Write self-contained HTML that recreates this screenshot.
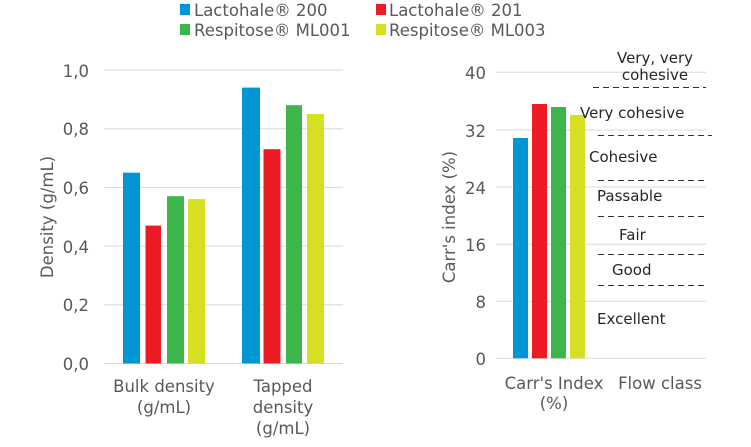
<!DOCTYPE html>
<html><head><meta charset="utf-8"><style>
body{margin:0;background:#fff}
svg text{font-family:"DejaVu Sans","Liberation Sans",sans-serif;fill:#595959;font-size:16.5px}
svg text.f{fill:#262626;font-size:15px}
</style></head><body>
<svg width="751" height="442" xmlns="http://www.w3.org/2000/svg">
<rect x="180" y="4" width="10" height="11" fill="#0096D6"/><text x="194" y="16">Lactohale® 200</text>
<rect x="376" y="4" width="10" height="11" fill="#ED1C24"/><text x="389" y="16">Lactohale® 201</text>
<rect x="180" y="24" width="10" height="11" fill="#3CB54A"/><text x="194" y="36">Respitose® ML001</text>
<rect x="376" y="24" width="10" height="11" fill="#D7DF23"/><text x="389" y="36">Respitose® ML003</text>
<g stroke="#D9D9D9" stroke-width="1">
<line x1="104" x2="343" y1="70" y2="70"/><line x1="104" x2="343" y1="128.7" y2="128.7"/>
<line x1="104" x2="343" y1="187.4" y2="187.4"/><line x1="104" x2="343" y1="246.1" y2="246.1"/>
<line x1="104" x2="343" y1="304.8" y2="304.8"/><line x1="104" x2="343" y1="363.5" y2="363.5"/>
</g>
<g text-anchor="end">
<text x="89" y="77">1,0</text><text x="89" y="135">0,8</text><text x="89" y="194">0,6</text>
<text x="89" y="253">0,4</text><text x="89" y="311">0,2</text><text x="89" y="370">0,0</text>
</g>
<rect x="123" y="172.7" width="17" height="190.8" fill="#0096D6"/>
<rect x="145.5" y="225.6" width="15.5" height="137.9" fill="#ED1C24"/>
<rect x="167" y="196.2" width="17" height="167.3" fill="#3CB54A"/>
<rect x="188" y="199.1" width="17" height="164.4" fill="#D7DF23"/>
<rect x="242" y="87.6" width="18" height="275.9" fill="#0096D6"/>
<rect x="263.5" y="149.2" width="17" height="214.3" fill="#ED1C24"/>
<rect x="286" y="105.2" width="16" height="258.3" fill="#3CB54A"/>
<rect x="307" y="114" width="17" height="249.5" fill="#D7DF23"/>
<text transform="translate(53,217) rotate(-90)" text-anchor="middle">Density (g/mL)</text>
<g text-anchor="middle">
<text x="164" y="392">Bulk density</text><text x="164" y="413">(g/mL)</text>
<text x="283" y="392">Tapped</text><text x="283" y="413">density</text><text x="283" y="434">(g/mL)</text>
</g>
<g stroke="#D9D9D9" stroke-width="1">
<line x1="496" x2="706" y1="72.3" y2="72.3"/><line x1="496" x2="706" y1="130" y2="130"/>
<line x1="496" x2="706" y1="187" y2="187"/><line x1="496" x2="706" y1="244.3" y2="244.3"/>
<line x1="496" x2="706" y1="301.3" y2="301.3"/><line x1="496" x2="706" y1="358.3" y2="358.3"/>
</g>
<g text-anchor="end">
<text x="486" y="79">40</text><text x="486" y="137">32</text><text x="486" y="194">24</text>
<text x="486" y="251">16</text><text x="486" y="308">8</text><text x="486" y="365">0</text>
</g>
<rect x="513" y="138" width="15" height="220.3" fill="#0096D6"/>
<rect x="532" y="104" width="15" height="254.3" fill="#ED1C24"/>
<rect x="551" y="107" width="15" height="251.3" fill="#3CB54A"/>
<rect x="570" y="115" width="15" height="243.3" fill="#D7DF23"/>
<g stroke="#333" stroke-width="1" stroke-dasharray="6,4">
<line x1="593" x2="706" y1="87.5" y2="87.5"/><line x1="598" x2="712" y1="135.5" y2="135.5"/>
<line x1="598" x2="707" y1="180.5" y2="180.5"/><line x1="598" x2="707" y1="216.5" y2="216.5"/>
<line x1="598" x2="707" y1="254.5" y2="254.5"/><line x1="598" x2="707" y1="285.5" y2="285.5"/>
</g>
<text class="f" x="655" y="63" text-anchor="middle">Very, very</text>
<text class="f" x="655" y="80" text-anchor="middle">cohesive</text>
<text class="f" x="580" y="118">Very cohesive</text>
<text class="f" x="589" y="162">Cohesive</text>
<text class="f" x="597" y="201">Passable</text>
<text class="f" x="619" y="240">Fair</text>
<text class="f" x="612" y="275">Good</text>
<text class="f" x="597" y="324">Excellent</text>
<text transform="translate(455,217) rotate(-90)" text-anchor="middle">Carr's index (%)</text>
<g text-anchor="middle">
<text x="554" y="389">Carr's Index</text><text x="554" y="409">(%)</text>
<text x="660" y="389">Flow class</text>
</g>
</svg>
</body></html>
